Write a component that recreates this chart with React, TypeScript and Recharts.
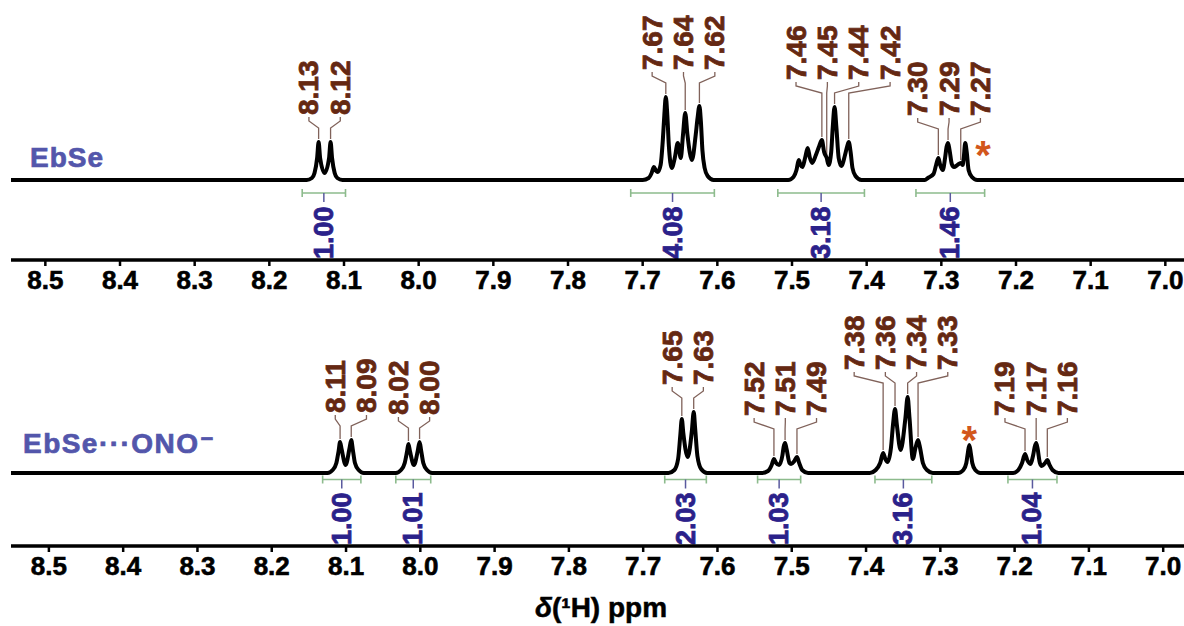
import React from "react";
import { ComposedChart, Line, XAxis, YAxis, ReferenceArea, ReferenceDot } from "recharts";

type Pt = [number, number];

// chemical shift ticks (ppm)
const ppmTicks = [8.5, 8.4, 8.3, 8.2, 8.1, 8.0, 7.9, 7.8, 7.7, 7.6, 7.5, 7.4, 7.3, 7.2, 7.1, 7.0];

// ---- EbSe: traced spectrum points [ppm, intensity] ----
const ebse813: Pt[] = [
  [8.15, 0], [8.143, 2], [8.1395, 7], [8.136, 22], [8.134, 38], [8.132, 22], [8.126, 7],
  [8.12, 22], [8.118, 38], [8.116, 22], [8.1125, 7], [8.109, 2], [8.102, 0],
];
const ebse767: Pt[] = [
  [7.7, 0], [7.692, 2], [7.688, 7], [7.685, 13], [7.682, 9], [7.68, 8], [7.676, 15],
  [7.673, 40], [7.671, 65], [7.669, 83], [7.667, 65], [7.665, 35], [7.661, 12], [7.657, 22],
  [7.653, 37], [7.649, 22], [7.646, 45], [7.643, 67], [7.64, 45], [7.634, 20], [7.629, 45],
  [7.6265, 62], [7.624, 74], [7.622, 58], [7.62, 30], [7.617, 12], [7.613, 4], [7.605, 0],
];
const ebse746: Pt[] = [
  [7.505, 0], [7.498, 3], [7.494, 10], [7.491, 20], [7.4885, 15], [7.486, 13], [7.4825, 22],
  [7.479, 32], [7.476, 22], [7.473, 17], [7.468, 25], [7.4635, 34], [7.46, 40], [7.457, 28],
  [7.4535, 22], [7.451, 15], [7.4475, 28], [7.4455, 52], [7.443, 73], [7.4405, 52],
  [7.4375, 22], [7.434, 14], [7.429, 25], [7.426, 34], [7.424, 38], [7.4215, 28], [7.419, 12],
  [7.415, 4], [7.407, 0],
];
const ebse730: Pt[] = [
  [7.322, 0], [7.318, 2], [7.3105, 6], [7.307, 15], [7.304, 22], [7.3015, 15], [7.298, 10],
  [7.295, 22], [7.293, 33], [7.291, 37], [7.289, 30], [7.286, 16], [7.283, 13], [7.2785, 15],
  [7.274, 17], [7.2715, 15], [7.27, 22], [7.268, 37], [7.266, 28], [7.2635, 10], [7.259, 3],
  [7.252, 0],
];
const ebseSpectrum: Pt[] = [[8.546, 0], ...ebse813, ...ebse767, ...ebse746, ...ebse730, [6.975, 0]];
// labelled peaks, grouped by multiplet
const ebsePeaks = [[8.134, 8.118], [7.669, 7.643, 7.624], [7.46, 7.4535, 7.443, 7.424], [7.304, 7.291, 7.274]];
// integrals [from, to, value]
const ebseIntegrals: [number, number, number][] = [
  [8.156, 8.098, 1.0], [7.716, 7.604, 4.08], [7.519, 7.403, 3.18], [7.334, 7.242, 1.46],
];
const ebseSolvent = { ppm: 7.244, h: 32 };

// ---- EbSe···ONO⁻ ----
const ono811: Pt[] = [
  [8.125, 0], [8.118, 3], [8.113, 10], [8.11, 22], [8.108, 31], [8.106, 24], [8.1005, 8],
  [8.0955, 24], [8.093, 33], [8.091, 24], [8.088, 10], [8.083, 3], [8.076, 0],
];
const ono802: Pt[] = [
  [8.033, 0], [8.026, 3], [8.021, 10], [8.018, 21], [8.016, 29], [8.014, 22], [8.0085, 8],
  [8.0035, 22], [8.001, 31], [7.999, 23], [7.996, 10], [7.991, 3], [7.984, 0],
];
const ono765: Pt[] = [
  [7.666, 0], [7.658, 3], [7.653, 14], [7.65, 38], [7.648, 54], [7.646, 40], [7.64, 16],
  [7.6345, 42], [7.632, 61], [7.63, 44], [7.627, 17], [7.622, 4], [7.614, 0],
];
const ono751: Pt[] = [
  [7.54, 0], [7.532, 2], [7.527, 8], [7.524, 14], [7.521, 10], [7.517, 8], [7.5125, 18],
  [7.511, 26], [7.509, 30], [7.507, 24], [7.503, 10], [7.501, 9], [7.4965, 12], [7.493, 16],
  [7.49, 10], [7.486, 3], [7.478, 0],
];
const ono736: Pt[] = [
  [7.395, 0], [7.387, 3], [7.381, 10], [7.377, 20], [7.374, 14], [7.371, 11], [7.3665, 25],
  [7.3635, 50], [7.361, 64], [7.3585, 48], [7.3535, 23], [7.347, 55], [7.344, 76], [7.3415, 55],
  [7.337, 14], [7.3335, 25], [7.33, 33], [7.327, 24], [7.3235, 10], [7.318, 3], [7.31, 0],
];
const onoCdcl3: Pt[] = [
  [7.276, 0], [7.269, 3], [7.265, 10], [7.263, 20], [7.261, 28], [7.259, 20], [7.257, 10],
  [7.253, 3], [7.246, 0],
];
const ono717: Pt[] = [
  [7.202, 0], [7.195, 3], [7.19, 10], [7.186, 19], [7.183, 13], [7.179, 9], [7.175, 18],
  [7.173, 26], [7.171, 30], [7.169, 24], [7.166, 10], [7.1635, 7], [7.159, 10], [7.156, 13],
  [7.153, 8], [7.149, 3], [7.141, 0],
];
const onoSpectrum: Pt[] = [
  [8.551, 0], ...ono811, ...ono802, ...ono765, ...ono751, ...ono736, ...onoCdcl3, ...ono717, [6.972, 0],
];
const onoPeaks = [
  [8.108, 8.093], [8.016, 8.001], [7.648, 7.632], [7.524, 7.509, 7.493],
  [7.377, 7.361, 7.344, 7.33], [7.186, 7.171, 7.156],
];
const onoIntegrals: [number, number, number][] = [
  [8.1315, 8.08, 1.0], [8.033, 7.986, 1.01], [7.671, 7.615, 2.03],
  [7.546, 7.488, 1.03], [7.388, 7.3115, 3.16], [7.209, 7.143, 1.04],
];
const onoSolvent = { ppm: 7.261, h: 40 };

const FONT = '"Liberation Sans", Arial, sans-serif';
const LABEL_GAP = 28; // space between multiplet top and its labels
const LABEL_STEP = 0.042; // ppm between neighbouring peak labels

const heightAt = (spec: Pt[], ppm: number) => {
  let best = spec[0];
  for (const p of spec) if (Math.abs(p[0] - ppm) < Math.abs(best[0] - ppm)) best = p;
  return best[1];
};

const leaderShape = (text: string, labelLeft: boolean) => (p: any) => {
  const { x, y, width, height } = p;
  const lx = labelLeft ? x : x + width;
  const px = labelLeft ? x + width : x;
  const end = Math.max(y + height, y + 14);
  return (
    <g>
      <path
        d={`M${lx},${y} L${lx},${y + 4} L${px},${y + 11} L${px},${end}`}
        fill="none"
        stroke="#80625a"
        strokeWidth={1.3}
      />
      <text
        x={lx}
        y={y - 2}
        transform={`rotate(-90 ${lx} ${y - 2})`}
        dominantBaseline="central"
        fill="#652812"
        stroke="#652812"
        strokeWidth={0.8}
        fontSize={28}
        fontWeight={700}
        fontFamily={FONT}
      >
        {text}
      </text>
    </g>
  );
};

const integralShape = (value: number) => (p: any) => {
  const { x, y, width, height } = p;
  const cx = x + width / 2;
  const axisY = y + height - 1;
  return (
    <g>
      <line x1={x} x2={x + width} y1={y} y2={y} stroke="#8dbb8d" strokeWidth={1.6} />
      <line x1={x} x2={x} y1={y - 4} y2={y + 4} stroke="#8dbb8d" strokeWidth={1.6} />
      <line x1={x + width} x2={x + width} y1={y - 4} y2={y + 4} stroke="#8dbb8d" strokeWidth={1.6} />
      <line x1={cx} x2={cx} y1={y} y2={y + 9} stroke="#5a5a9e" strokeWidth={1.5} />
      <text
        x={cx}
        y={axisY}
        transform={`rotate(-90 ${cx} ${axisY})`}
        dominantBaseline="central"
        fill="#2b218a"
        stroke="#2b218a"
        strokeWidth={0.8}
        fontSize={27}
        fontWeight={700}
        fontFamily={FONT}
      >
        {value.toFixed(2)}
      </text>
    </g>
  );
};

const asteriskShape = (p: any) => (
  <text x={p.cx} y={p.cy + 21} textAnchor="middle" fill="#d2571c" fontSize={40} fontWeight={700} fontFamily={FONT}>
    *
  </text>
);

interface PanelProps {
  spectrum: Pt[];
  peaks: number[][];
  integrals: [number, number, number][];
  solvent: { ppm: number; h: number };
  xDomain: [number, number];
  yDomain: [number, number];
  barLevel: number;
  height: number;
  axisHeight: number;
  shifts: number[];
}

function Panel({ spectrum, peaks, integrals, solvent, xDomain, yDomain, barLevel, height, axisHeight, shifts }: PanelProps) {
  const points = spectrum.map(([ppm, y]) => ({ ppm, y }));

  const labels = peaks.flatMap((group, gi) => {
    const mean = group.reduce((a, b) => a + b, 0) / group.length + (shifts[gi] || 0);
    const top = Math.max(...group.map((ppm) => heightAt(spectrum, ppm))) + LABEL_GAP;
    return group.map((ppm, i) => ({
      ppm,
      h: heightAt(spectrum, ppm),
      labelPpm: mean + ((group.length - 1) / 2 - i) * LABEL_STEP,
      top,
    }));
  });

  return (
    <ComposedChart width={1184} height={height} margin={{ top: 0, right: 0, bottom: 0, left: 11 }}>
      <XAxis
        type="number"
        dataKey="ppm"
        domain={xDomain}
        reversed
        allowDataOverflow
        ticks={ppmTicks}
        interval={0}
        tickFormatter={(v: number) => v.toFixed(1)}
        height={axisHeight}
        axisLine={{ stroke: "#000", strokeWidth: 3.5 }}
        tickLine={{ stroke: "#000", strokeWidth: 2.5 }}
        tickSize={6}
        tickMargin={5}
        tick={{ fill: "#000", stroke: "#000", strokeWidth: 0.6, fontSize: 26, fontWeight: 700, fontFamily: FONT }}
      />
      <YAxis type="number" hide domain={yDomain} allowDataOverflow />
      <Line
        data={points}
        dataKey="y"
        type="monotone"
        stroke="#000"
        strokeWidth={4}
        dot={false}
        activeDot={false}
        isAnimationActive={false}
      />
      {integrals.map(([from, to, value]) => (
        <ReferenceArea
          key={`int-${from}`}
          x1={from}
          x2={to}
          y1={yDomain[0]}
          y2={barLevel}
          ifOverflow="visible"
          shape={integralShape(value)}
        />
      ))}
      {labels.map((l) => (
        <ReferenceArea
          key={`pk-${l.ppm}`}
          x1={l.labelPpm === l.ppm ? l.labelPpm + 0.0001 : l.labelPpm}
          x2={l.ppm}
          y1={l.h + 3}
          y2={l.top - 3}
          ifOverflow="visible"
          shape={leaderShape(l.ppm.toFixed(2), l.labelPpm >= l.ppm)}
        />
      ))}
      <ReferenceDot x={solvent.ppm} y={solvent.h} ifOverflow="visible" shape={asteriskShape} />
    </ComposedChart>
  );
}

export default function App() {
  return (
    <div
      style={{
        position: "absolute",
        left: 0,
        top: 0,
        width: 1184,
        height: 626,
        background: "#fff",
        fontFamily: FONT,
      }}
    >
      <div style={{ position: "absolute", left: 0, top: 0 }}>
        <Panel
          spectrum={ebseSpectrum}
          peaks={ebsePeaks}
          integrals={ebseIntegrals}
          solvent={ebseSolvent}
          xDomain={[6.975, 8.546]}
          yDomain={[-80, 180]}
          barLevel={-13}
          height={300}
          axisHeight={40}
          shifts={[0, 0, -0.0135, 0]}
        />
      </div>
      <div style={{ position: "absolute", left: 0, top: 300 }}>
        <Panel
          spectrum={onoSpectrum}
          peaks={onoPeaks}
          integrals={onoIntegrals}
          solvent={onoSolvent}
          xDomain={[6.972, 8.551]}
          yDomain={[-73, 173]}
          barLevel={-6.5}
          height={326}
          axisHeight={80}
          shifts={[-0.007, 0, 0, 0, 0, 0]}
        />
      </div>
      <svg width={1184} height={626} style={{ position: "absolute", left: 0, top: 0, pointerEvents: "none" }}>
        <text
          x={30}
          y={167}
          fill="#5356ab"
          stroke="#5356ab"
          strokeWidth={0.7}
          fontSize={28}
          fontWeight={700}
          textLength={73}
          fontFamily={FONT}
        >
          EbSe
        </text>
        <text x={23} y={453} fill="#5356ab" stroke="#5356ab" strokeWidth={0.7} fontSize={28} fontWeight={700} fontFamily={FONT}>
          <tspan textLength={175}>EbSe···ONO</tspan>
          <tspan dx={1} dy={-7} fontSize={22}>
            −
          </tspan>
        </text>
        <text
          x={601}
          y={617}
          textAnchor="middle"
          fill="#000"
          stroke="#000"
          strokeWidth={0.5}
          fontSize={28}
          fontWeight={700}
          fontFamily={FONT}
        >
          <tspan fontStyle="italic">δ</tspan>(¹H) ppm
        </text>
      </svg>
    </div>
  );
}
